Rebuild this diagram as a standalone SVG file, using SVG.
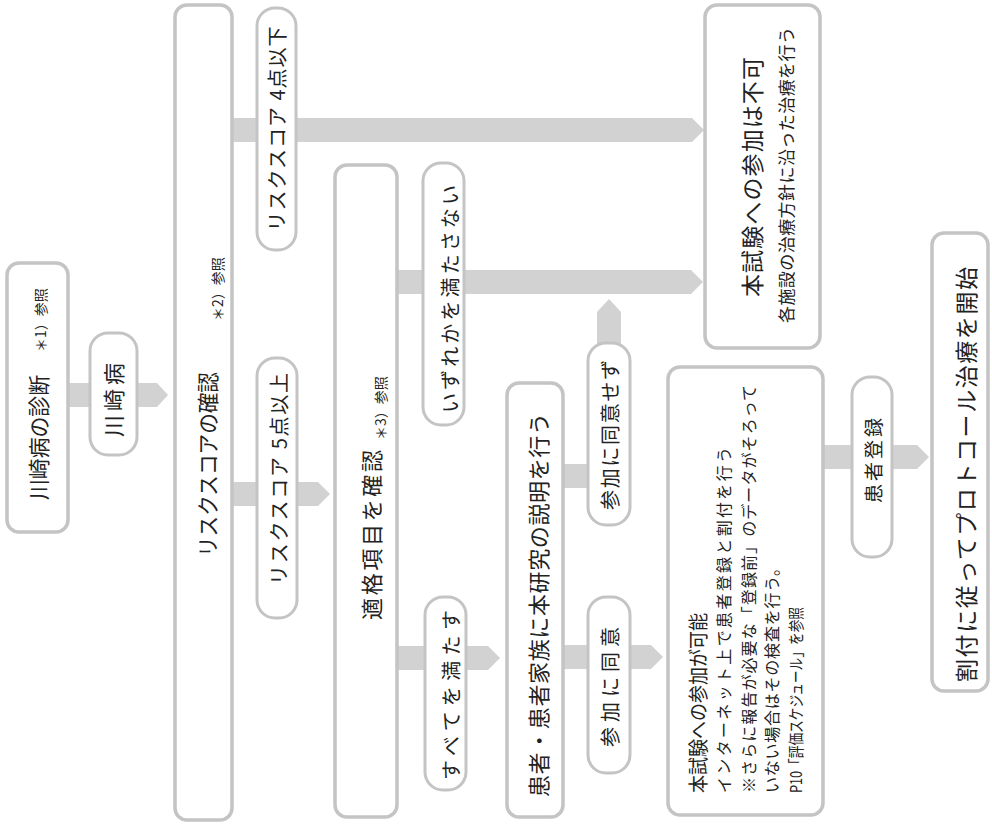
<svg xmlns="http://www.w3.org/2000/svg" width="992" height="826" viewBox="0 0 992 826">
<style>
.box{fill:#fff;stroke:#c4c4c4;stroke-width:3.5}
.pill{fill:#fff;stroke:#c4c4c4;stroke-width:3}
.arrow{fill:#d2d2d2}
.t{font-family:"Noto Sans CJK JP","Noto Sans",sans-serif;fill:#222;dominant-baseline:central}
</style>
<rect width="992" height="826" fill="#fff"/>
<g id="connectors">
<polygon class="arrow" points="68,383 157,383 168,395 157,407 68,407"/>
<polygon class="arrow" points="230,118 692,118 704,130 692,142 230,142"/>
<polygon class="arrow" points="230,482 318,482 330,494 318,506 230,506"/>
<polygon class="arrow" points="395,270 691,270 703,282 691,294 395,294"/>
<polygon class="arrow" points="395,646 488,646 500,658 488,670 395,670"/>
<rect class="arrow" x="561" y="464" width="30" height="24"/>
<polygon class="arrow" points="597,345 597,312 609,299 621,312 621,345"/>
<polygon class="arrow" points="561,645 651,645 663,657 651,669 561,669"/>
<polygon class="arrow" points="821,445 917,445 929,457 917,469 821,469"/>
</g>
<g id="diagnosis">
<rect class="box" x="7" y="263" width="61" height="269" rx="12"/>
<text class="t" font-size="22" transform="translate(37,500) rotate(-90)" textLength="125" lengthAdjust="spacingAndGlyphs">川崎病の診断</text>
<text class="t" font-size="14" transform="translate(40,352) rotate(-90)">＊1）参照</text>
</g>
<g id="kawasaki">
<rect class="pill" x="90" y="333" width="47" height="122" rx="18"/>
<text class="t" font-size="22" transform="translate(112,437) rotate(-90)" textLength="74" lengthAdjust="spacing">川崎病</text>
</g>
<g id="riskcheck">
<rect class="box" x="175" y="5" width="57" height="815" rx="12"/>
<text class="t" font-size="22" transform="translate(206,557) rotate(-90)" textLength="185" lengthAdjust="spacingAndGlyphs">リスクスコアの確認</text>
<text class="t" font-size="14" transform="translate(217,321) rotate(-90)">＊2）参照</text>
</g>
<g id="le4">
<rect class="pill" x="257" y="8" width="39" height="242" rx="18"/>
<text class="t" font-size="20" text-anchor="middle" transform="translate(276,129) rotate(-90)" textLength="205" lengthAdjust="spacing">リスクスコア 4点以下</text>
</g>
<g id="ge5">
<rect class="pill" x="257" y="358" width="40" height="260" rx="18"/>
<text class="t" font-size="20" text-anchor="middle" transform="translate(278,479) rotate(-90)" textLength="212" lengthAdjust="spacing">リスクスコア 5点以上</text>
</g>
<g id="eligibility">
<rect class="box" x="335" y="165" width="62" height="652" rx="12"/>
<text class="t" font-size="22" transform="translate(370,620) rotate(-90)" textLength="170" lengthAdjust="spacing">適格項目を確認</text>
<text class="t" font-size="14" transform="translate(380,440) rotate(-90)">＊3）参照</text>
</g>
<g id="notmet">
<rect class="pill" x="423" y="163" width="41" height="262" rx="18"/>
<text class="t" font-size="20" transform="translate(449,413) rotate(-90)" textLength="228" lengthAdjust="spacing">いずれかを満たさない</text>
</g>
<g id="allmet">
<rect class="pill" x="425" y="597" width="41" height="193" rx="18"/>
<text class="t" font-size="20" transform="translate(450,780) rotate(-90)" textLength="170" lengthAdjust="spacing">すべてを満たす</text>
</g>
<g id="explain">
<rect class="box" x="507" y="383" width="56" height="434" rx="12"/>
<text class="t" font-size="22" transform="translate(537,797) rotate(-90)" textLength="384" lengthAdjust="spacing">患者・患者家族に本研究の説明を行う</text>
</g>
<g id="refuse">
<rect class="pill" x="588" y="343" width="42" height="182" rx="18"/>
<text class="t" font-size="20" transform="translate(609,510) rotate(-90)" textLength="150" lengthAdjust="spacing">参加に同意せず</text>
</g>
<g id="agree">
<rect class="pill" x="588" y="597" width="42" height="176" rx="18"/>
<text class="t" font-size="20" transform="translate(609,747) rotate(-90)" textLength="120" lengthAdjust="spacing">参加に同意</text>
</g>
<g id="eligible">
<rect class="box" x="668" y="367" width="155" height="448" rx="12"/>
<text class="t" font-size="20" transform="translate(697,793) rotate(-90)" textLength="180" lengthAdjust="spacingAndGlyphs">本試験への参加が可能</text>
<text class="t" font-size="16" transform="translate(723,793) rotate(-90)" textLength="346" lengthAdjust="spacing">インターネット上で患者登録と割付を行う</text>
<text class="t" font-size="16" transform="translate(748,793) rotate(-90)" textLength="408" lengthAdjust="spacing">※さらに報告が必要な「登録前」のデータがそろって</text>
<text class="t" font-size="16" transform="translate(771,793) rotate(-90)" textLength="233" lengthAdjust="spacing">いない場合はその検査を行う。</text>
<text class="t" font-size="16" transform="translate(795,793) rotate(-90)" textLength="186" lengthAdjust="spacingAndGlyphs">P10「評価スケジュール」を参照</text>
</g>
<g id="ineligible">
<rect class="box" x="705" y="5" width="115" height="343" rx="12"/>
<text class="t" font-size="23" transform="translate(751,297) rotate(-90)" textLength="240" lengthAdjust="spacing">本試験への参加は不可</text>
<text class="t" font-size="17" transform="translate(785,323) rotate(-90)" textLength="296" lengthAdjust="spacing">各施設の治療方針に沿った治療を行う</text>
</g>
<g id="register">
<rect class="pill" x="852" y="377" width="40" height="180" rx="18"/>
<text class="t" font-size="19" transform="translate(872,503) rotate(-90)" textLength="85" lengthAdjust="spacing">患者登録</text>
</g>
<g id="start">
<rect class="box" x="932" y="233" width="56" height="458" rx="12"/>
<text class="t" font-size="23" transform="translate(965,682) rotate(-90)" textLength="415" lengthAdjust="spacing">割付に従ってプロトコール治療を開始</text>
</g>
</svg>
